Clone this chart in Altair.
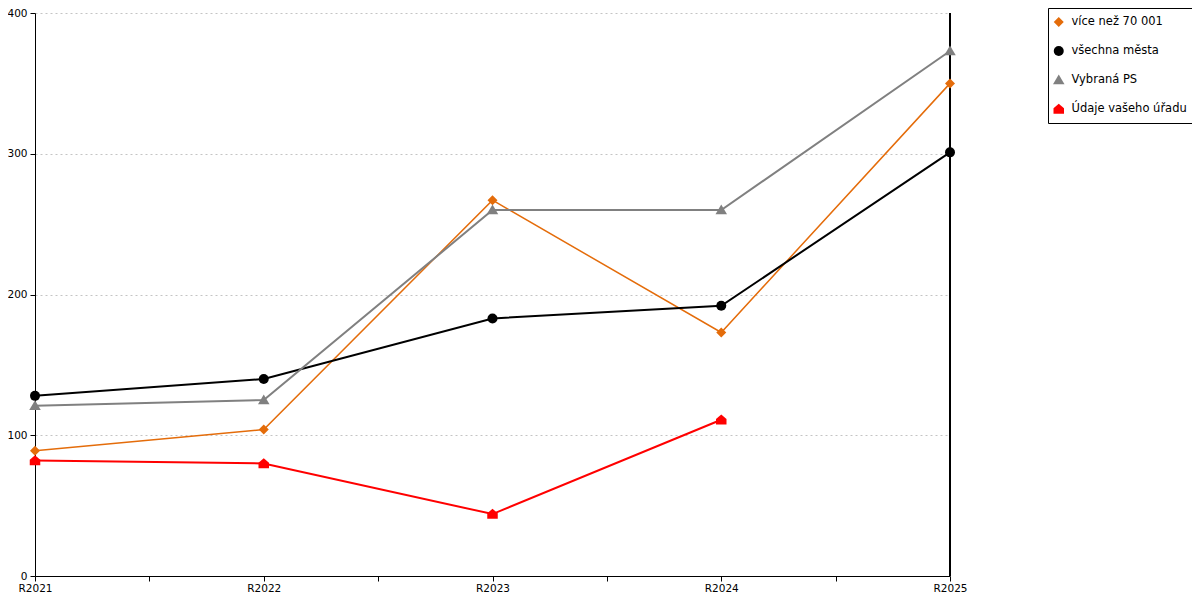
import altair as alt
import pandas as pd

years = [2021, 2022, 2023, 2024, 2025]
year_labels = ["R2021", "R2022", "R2023", "R2024", "R2025"]
series_names = ["více než 70 001", "všechna města", "Vybraná PS", "Údaje vašeho úřadu"]
vals_nad70 = [89, 104, 267, 173, 350]
vals_vsechna = [128, 140, 183, 192, 301]
vals_ps = [121, 125, 260, 260, 373]
vals_urad = [82, 80, 44, 111, None]
y_ticks = [0, 100, 200, 300, 400]

series_colors = ["#E46C0A", "#000000", "#808080", "#FF0000"]
triangle = "M0,-1.1L1.15,0.85L-1.15,0.85Z"
house = "M-1.05,0.95L-1.05,-0.15L0,-1.05L1.05,-0.15L1.05,0.95Z"
series_shapes = ["diamond", "circle", triangle, house]
line_widths = [1.5, 2, 2, 2]

rows = []
for name, vals in zip(series_names, [vals_nad70, vals_vsechna, vals_ps, vals_urad]):
    for yr, v in zip(years, vals):
        if v is not None:
            rows.append({"rok": yr, "hodnota": v, "serie": name})
df = pd.DataFrame(rows)

x_vals = []
for a, b in zip(years[:-1], years[1:]):
    x_vals += [a, (a + b) / 2]
x_vals.append(years[-1])
label_expr = " : ".join(f"datum.value == {y} ? '{l}'" for y, l in zip(years, year_labels)) + " : ''"

FONT = "DejaVu Sans"

x_enc = alt.X(
    "rok:Q",
    scale=alt.Scale(domain=[years[0], years[-1]], nice=False, zero=False),
    axis=alt.Axis(
        title=None, values=x_vals, labelExpr=label_expr, grid=False,
        labelFlush=False, labelOverlap=False, labelBound=False,
        domainColor="black", tickColor="black", tickSize=5,
        labelPadding=2, labelFontSize=10.5, labelFont=FONT, labelColor="black",
    ),
)
y_enc = alt.Y(
    "hodnota:Q",
    scale=alt.Scale(domain=[y_ticks[0], y_ticks[-1]], nice=False),
    axis=alt.Axis(
        title=None, values=y_ticks, grid=True, gridColor="#c4c4c4", gridDash=[2, 3],
        gridWidth=1, domainColor="black", tickColor="black", tickSize=5,
        labelPadding=3, labelFontSize=10.5, labelFont=FONT, labelColor="black",
        labelFlush=False,
    ),
)

base = alt.Chart(df)

line_layers = []
for name, col, lw in zip(series_names, series_colors, line_widths):
    line_layers.append(
        base.transform_filter(alt.datum.serie == name)
        .mark_line(color=col, strokeWidth=lw)
        .encode(x=x_enc, y=y_enc)
    )

legend = alt.Legend(
    title=None, orient="none", legendX=1013, legendY=-5,
    strokeColor="black", fillColor="white", padding=5, rowPadding=11,
    clipHeight=18,
    labelFont=FONT, labelFontSize=11.5, labelColor="black", symbolSize=100,
    symbolStrokeWidth=0, symbolOpacity=1, labelOffset=7, cornerRadius=0,
)

points = base.mark_point(filled=True, opacity=1, size=100).encode(
    x="rok:Q",
    y="hodnota:Q",
    color=alt.Color("serie:N", sort=series_names,
                    scale=alt.Scale(domain=series_names, range=series_colors), legend=legend),
    shape=alt.Shape("serie:N", sort=series_names,
                    scale=alt.Scale(domain=series_names, range=series_shapes), legend=legend),
)

right_line = base.mark_rule(color="black", strokeWidth=1).encode(
    x=alt.datum(years[-1])
)

chart = alt.layer(*line_layers, right_line, points).properties(
    width=915, height=563,
    autosize="none",
    padding={"left": 27, "top": 5, "right": 242, "bottom": 16},
).configure_view(stroke=None)

chart.save("out.html", embed_options={"renderer": "svg", "actions": False})
